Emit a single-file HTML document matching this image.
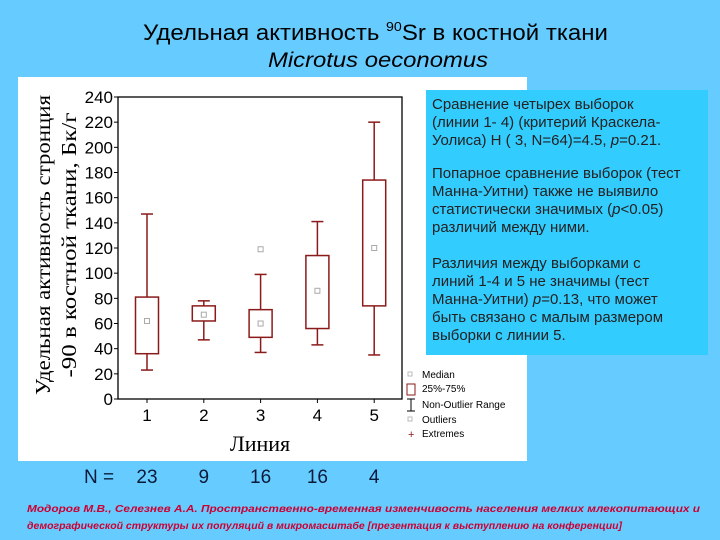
<!DOCTYPE html>
<html><head><meta charset="utf-8"><style>
body{margin:0;width:720px;height:540px;background:#66ccff;overflow:hidden;font-family:"Liberation Sans",sans-serif}
svg{display:block}
</style></head><body>
<svg width="720" height="540" xmlns="http://www.w3.org/2000/svg">
<text x="143" y="40" font-size="22" fill="#000" textLength="465" lengthAdjust="spacingAndGlyphs">Удельная активность <tspan font-size="13" dy="-9">90</tspan><tspan dy="9">Sr в костной ткани</tspan></text>
<text x="268" y="67" font-size="21" font-style="italic" fill="#000" textLength="220" lengthAdjust="spacingAndGlyphs">Microtus oeconomus</text>
<rect x="18" y="77" width="509" height="384" fill="#fff"/>
<g id="plot"></g>
<text x="50" y="245" transform="rotate(-90 50 245)" text-anchor="middle" font-family="Liberation Serif" font-size="21" textLength="300" lengthAdjust="spacingAndGlyphs">Удельная активность стронция</text>
<text x="76" y="245" transform="rotate(-90 76 245)" text-anchor="middle" font-family="Liberation Serif" font-size="21" textLength="265" lengthAdjust="spacingAndGlyphs">-90 в костной ткани, Бк/г</text>
<text x="260" y="451" text-anchor="middle" font-family="Liberation Serif" font-size="22">Линия</text>
<g font-size="10" fill="#000">
<rect x="408" y="372" width="4" height="4" fill="none" stroke="#bbb"/>
<text x="422" y="378">Median</text>
<rect x="407" y="384" width="8" height="11" fill="#fff" stroke="#8b1a1a"/>
<text x="422" y="392">25%-75%</text>
<path d="M407 399H415M411 399V411M407 411H415" stroke="#000" fill="none"/>
<text x="422" y="408">Non-Outlier Range</text>
<rect x="408" y="417" width="4" height="4" fill="none" stroke="#bbb"/>
<text x="422" y="423">Outliers</text>
<text x="408" y="438" fill="#8b1a1a" font-size="11">+</text>
<text x="422" y="437">Extremes</text>
</g>
<rect x="426" y="90" width="282" height="265" fill="#33ccff"/>
<g font-size="15" fill="#222">
<text x="432" y="109">Сравнение четырех выборок</text>
<text x="432" y="127">(линии 1- 4) (критерий Краскела-</text>
<text x="432" y="145">Уолиса)   H ( 3, N=64)=4.5, <tspan font-style="italic">p</tspan>=0.21.</text>
<text x="432" y="178">Попарное сравнение выборок (тест</text>
<text x="432" y="196">Манна-Уитни) также не выявило</text>
<text x="432" y="214">статистически значимых (<tspan font-style="italic">p</tspan>&lt;0.05)</text>
<text x="432" y="232">различий между ними.</text>
<text x="432" y="268">Различия между выборками с</text>
<text x="432" y="286">линий 1-4 и 5 не значимы (тест</text>
<text x="432" y="304">Манна-Уитни) <tspan font-style="italic">p</tspan>=0.13, что может</text>
<text x="432" y="322">быть связано с малым размером</text>
<text x="432" y="340">выборки с линии 5.</text>
</g>
<g id="nrow" font-size="19" fill="#0a1a3a"><text x="84" y="483">N  =</text></g>
<g font-size="10.5" font-style="italic" font-weight="bold" fill="#cc0033">
<text x="27" y="512" textLength="673" lengthAdjust="spacingAndGlyphs">Модоров М.В., Селезнев А.А. Пространственно-временная изменчивость населения мелких млекопитающих и</text>
<text x="27" y="529" textLength="595" lengthAdjust="spacingAndGlyphs">демографической структуры их популяций в микромасштабе [презентация к выступлению на конференции]</text>
</g>
</svg>
<script>
const categories=["1","2","3","4","5"];
const whiskerLow=[23,47,37,43,35];
const whiskerHigh=[147,78,99,141,220];
const q1=[36,62,49,56,74];
const q3=[81,74,71,114,174];
const medians=[62,67,60,86,120];
const outliers=[[],[],[119],[],[]];
const sampleN=[23,9,16,16,4];
const yTicks=[0,20,40,60,80,100,120,140,160,180,200,220,240];
const NS="http://www.w3.org/2000/svg";
const L=118,R=402,T=97,B=399,yMax=240;
const y=v=>B-(v/yMax)*(B-T);
const x=i=>147+i*56.8;
const g=document.getElementById('plot');
function mk(tag,attrs,name,parent){const e=document.createElementNS(NS,tag);for(const k in attrs)e.setAttribute(k,attrs[k]);


(parent||g).appendChild(e);return e;}
mk('rect',{x:L,y:T,width:R-L,height:B-T,fill:'none',stroke:'#000','stroke-width':1.3},'plot-frame');
yTicks.forEach(t=>{mk('line',{x1:L-4,x2:L,y1:y(t),y2:y(t),stroke:'#000'},'y-tick');
const tx=mk('text',{x:L-5,y:y(t)+6,'text-anchor':'end','font-size':17},'y-tick-label');tx.textContent=t;});
categories.forEach((c,i)=>{const cx=x(i),col='#8b1a1a',hw=11.5;
mk('line',{x1:cx,x2:cx,y1:B,y2:B+4,stroke:'#000'},'x-tick');
const tl=mk('text',{x:cx,y:B+22,'text-anchor':'middle','font-size':17},'x-tick-label');tl.textContent=c;
mk('line',{x1:cx,x2:cx,y1:y(whiskerHigh[i]),y2:y(q3[i]),stroke:col,'stroke-width':1.5},'whisker-upper-'+c);
mk('line',{x1:cx,x2:cx,y1:y(q1[i]),y2:y(whiskerLow[i]),stroke:col,'stroke-width':1.5},'whisker-lower-'+c);
mk('line',{x1:cx-6,x2:cx+6,y1:y(whiskerHigh[i]),y2:y(whiskerHigh[i]),stroke:col,'stroke-width':1.5},'whisker-cap-high-'+c);
mk('line',{x1:cx-6,x2:cx+6,y1:y(whiskerLow[i]),y2:y(whiskerLow[i]),stroke:col,'stroke-width':1.5},'whisker-cap-low-'+c);
mk('rect',{x:cx-hw,y:y(q3[i]),width:hw*2,height:y(q1[i])-y(q3[i]),fill:'#fff',stroke:col,'stroke-width':1.5},'box-'+c);
mk('rect',{x:cx-2.5,y:y(medians[i])-2.5,width:5,height:5,fill:'none',stroke:'#aaa'},'median-'+c);
outliers[i].forEach(o=>mk('rect',{x:cx-2.5,y:y(o)-2.5,width:5,height:5,fill:'none',stroke:'#aaa'},'outlier-'+c));
const nt=mk('text',{x:cx,y:483,'text-anchor':'middle'},'n-'+c,document.getElementById('nrow'));nt.textContent=sampleN[i];
});
</script>
</body></html>
